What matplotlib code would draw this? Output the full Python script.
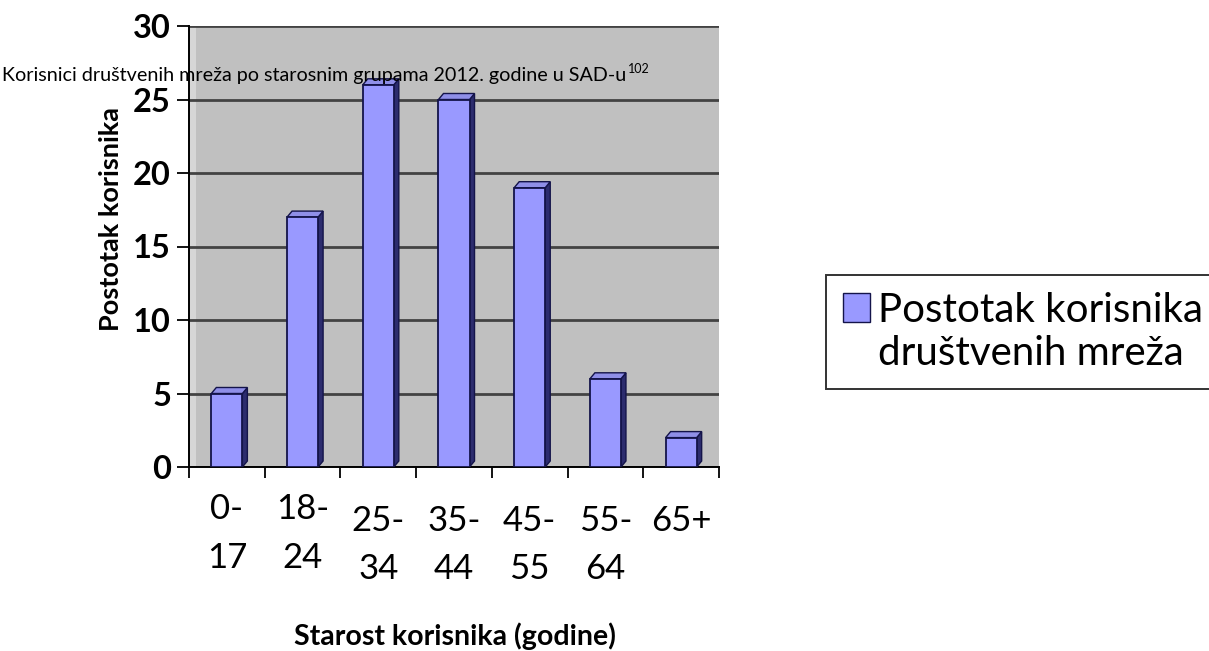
import numpy as np
import matplotlib
matplotlib.use("Agg")
import matplotlib.pyplot as plt
from matplotlib.patches import Polygon, Rectangle
from matplotlib.transforms import IdentityTransform
from matplotlib.legend_handler import HandlerPatch

plt.rcParams['font.family'] = ['Lato', 'DejaVu Sans']

# share of social network users by age group, USA 2012
groups = ['0-\n17', '18-\n24', '25-\n34', '35-\n44', '45-\n55', '55-\n64', '65+']
share = [5, 17, 26, 25, 19, 6, 2]
yticks = [0, 5, 10, 15, 20, 25, 30]

title = 'Korisnici društvenih mreža po starosnim grupama 2012. godine u SAD-u'
footnote = '102'
ylabel = 'Postotak korisnika'
xlabel = 'Starost korisnika (godine)'
series_name = 'Postotak korisnika\ndruštvenih mreža'

W, H = 1209, 651
fig = plt.figure(figsize=(W / 100, H / 100), dpi=100)
ax = fig.add_axes([189 / W, 1 - 467 / H, 530 / W, 441 / H])
x = np.arange(len(groups))
ax.set_xlim(-0.5, len(groups) - 0.5)
ax.set_ylim(0, 30)

# back wall + grid
ax.set_facecolor('#c0c0c0')
ax.axvspan(-0.5, -0.41, color='#d6d6d6', zorder=0.5, lw=0)
ax.set_yticks(yticks)
ax.yaxis.grid(True, color='#434343', lw=2.0, zorder=1)
ax.set_axisbelow(True)

for s in ['top', 'right']:
    ax.spines[s].set_visible(False)
for s in ['left', 'bottom']:
    ax.spines[s].set_color('black')
    ax.spines[s].set_linewidth(1.4)

ax.tick_params(axis='y', direction='out', length=9, width=1.3, pad=4,
               labelsize=23.5)
for lab in ax.get_yticklabels():
    lab.set_fontweight('bold')

# category boundaries as ticks, labels drawn as text
ax.set_xticks(np.arange(len(groups) + 1) - 0.5)
ax.set_xticklabels([])
ax.tick_params(axis='x', direction='out', length=8, width=1.3)

bw = 0.41
bars = ax.bar(x, share, width=bw, color='#9999ff', edgecolor='#14144a',
              lw=1.3, zorder=3)

# depth faces of the bars
dx, dy = 5, 6
for xi, v in zip(x, share):
    xl, yb = ax.transData.transform((xi - bw / 2, 0))
    xr, yt = ax.transData.transform((xi + bw / 2, v))
    side = Polygon([(xr, yb), (xr + dx, yb + dy), (xr + dx, yt + dy), (xr, yt)],
                   closed=True, transform=IdentityTransform(),
                   facecolor='#2c2c6e', edgecolor='#14144a', lw=1.0, zorder=2.9)
    top = Polygon([(xl, yt), (xl + dx, yt + dy), (xr + dx, yt + dy), (xr, yt)],
                  closed=True, transform=IdentityTransform(),
                  facecolor='#8f8fe8', edgecolor='#14144a', lw=1.0, zorder=2.9)
    ax.add_patch(side)
    ax.add_patch(top)

# two-line category labels, the first two sit a bit higher
xt = ax.get_xaxis_transform()
for i, g in enumerate(groups):
    yoff = -0.06 if i < 2 else -0.086
    ax.text(x[i], yoff, g, transform=xt, ha='center', va='top',
            fontsize=25, linespacing=1.62, clip_on=False)

fig.text(455 / W, 1 - 636 / H, xlabel, ha='center', va='center',
         fontsize=20.5, fontweight='bold')
fig.text(111 / W, 1 - 219 / H, ylabel, ha='center', va='center',
         rotation=90, fontsize=19.5, fontweight='bold')

t = fig.text(2 / W, 1 - 75 / H, title, ha='left', va='center', fontsize=14.2)
ax.annotate(footnote, xy=(1, 0.5), xycoords=t, xytext=(1, 0),
            textcoords='offset points', ha='left', va='bottom', fontsize=9,
            annotation_clip=False)


# legend swatch sits next to the first line of the label
def top_swatch(legend, orig_handle, xdescent, ydescent, width, height, fontsize):
    return Rectangle((-xdescent, -ydescent + 0.63 * fontsize), width, height)


swatch = bars.patches[0]
leg = ax.legend([swatch], [series_name], loc='upper left',
                bbox_to_anchor=(826 / W, 1 - 275 / H), bbox_transform=fig.transFigure,
                fontsize=29, frameon=True, fancybox=False, borderpad=0.42,
                handlelength=0.68, handleheight=0.7, handletextpad=0.2,
                borderaxespad=0, labelspacing=0.05,
                handler_map={swatch: HandlerPatch(patch_func=top_swatch)})
leg.get_frame().set_edgecolor('black')
leg.get_frame().set_linewidth(1.4)
leg.legend_handles[0].set_linewidth(1.0)

fig.savefig('out.png', dpi=100, facecolor='white')
